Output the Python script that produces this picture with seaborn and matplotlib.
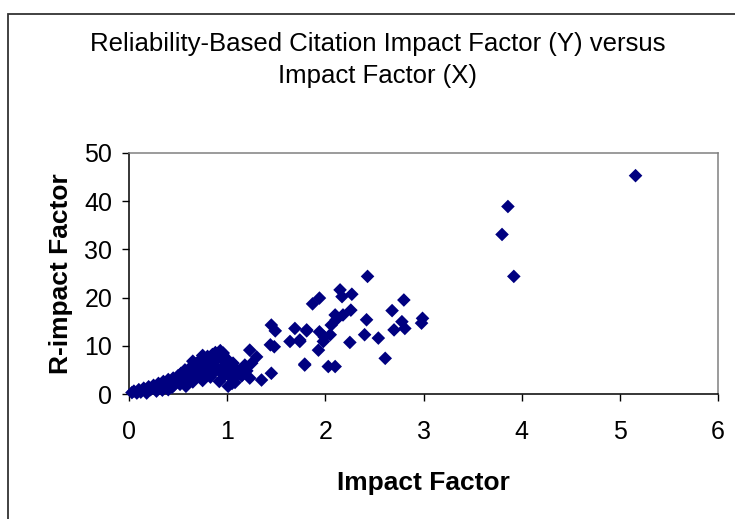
import matplotlib
matplotlib.use("Agg")
import matplotlib.pyplot as plt
import seaborn as sns
import pandas as pd
from matplotlib.patches import Rectangle

impact_factor = [
    0.03, 0.05, 0.08, 0.10, 0.12, 0.15, 0.17, 0.20, 0.22, 0.25, 0.27, 0.30, 0.32, 0.34,
    0.35, 0.38, 0.40, 0.42, 0.44, 0.45, 0.48, 0.50, 0.52, 0.53, 0.55, 0.57, 0.58, 0.60,
    0.62, 0.63, 0.65, 0.67, 0.68, 0.70, 0.72, 0.73, 0.75, 0.77, 0.78, 0.80, 0.82, 0.83,
    0.85, 0.87, 0.88, 0.90, 0.92, 0.93, 0.95, 0.96, 0.97, 0.98, 1.00, 1.01, 1.02, 1.03,
    1.05, 1.06, 1.08, 1.10, 1.12, 1.15, 1.18, 1.20, 0.18, 0.28, 0.40, 0.46, 0.58, 0.65,
    0.70, 0.75, 0.83, 0.88, 0.90, 0.95,
    1.45, 1.49, 1.69, 1.81, 1.64, 1.74, 1.79, 1.48, 1.44, 1.23, 1.30, 1.25, 1.45, 1.35,
    1.23, 0.96, 1.05, 1.15,
    2.43, 2.15, 1.94, 1.87, 2.27, 2.17, 2.80, 2.68, 2.99, 2.98, 2.78, 2.81, 2.70, 2.42,
    2.40, 2.54, 2.25, 2.61, 2.26, 2.18, 2.10, 2.11, 2.06, 1.81, 1.94, 1.99, 2.05, 1.98,
    1.93, 1.74, 1.79, 2.03, 2.10,
    5.16, 3.86, 3.80, 3.92,
]
r_impact_factor = [
    0.3, 0.6, 0.2, 0.9, 0.4, 1.2, 0.7, 1.5, 0.9, 1.8, 1.2, 2.2, 1.5, 0.8,
    2.6, 1.9, 3.0, 2.2, 1.4, 3.3, 2.6, 3.8, 2.0, 4.3, 3.0, 5.0, 1.6, 4.2,
    3.4, 5.6, 2.5, 4.8, 6.2, 3.8, 7.0, 5.5, 2.8, 6.5, 4.4, 7.8, 5.8, 3.5,
    8.2, 6.8, 4.8, 7.4, 2.6, 9.0, 5.5, 8.0, 3.8, 6.5, 7.2, 1.6, 4.5, 5.8,
    3.2, 6.4, 2.4, 5.0, 4.2, 3.8, 6.0, 4.8, 0.2, 0.6, 0.9, 1.9, 3.9, 6.8,
    5.2, 8.0, 7.2, 8.6, 5.2, 4.2,
    14.3, 13.1, 13.6, 13.1, 10.9, 10.9, 6.2, 9.8, 10.2, 9.1, 7.7, 6.4, 4.3, 2.9,
    3.3, 8.5, 2.2, 3.9,
    24.4, 21.6, 19.9, 18.7, 20.7, 20.2, 19.5, 17.3, 15.7, 14.7, 15.0, 13.6, 13.3, 15.4,
    12.3, 11.6, 10.7, 7.4, 17.4, 16.4, 16.4, 15.4, 14.3, 13.3, 12.9, 11.8, 12.3, 10.9,
    9.1, 11.2, 6.0, 5.7, 5.7,
    45.3, 38.9, 33.1, 24.4,
]
x_ticks = [0, 1, 2, 3, 4, 5, 6]
y_ticks = [0, 10, 20, 30, 40, 50]
title_text = "Reliability-Based Citation Impact Factor (Y) versus\nImpact Factor (X)"
x_label = "Impact Factor"
y_label = "R-impact Factor"

df = pd.DataFrame({"x": impact_factor, "y": r_impact_factor})

sns.set_theme(style="white")
plt.rcParams["font.family"] = ["Liberation Sans", "DejaVu Sans"]
plt.rcParams["text.color"] = "black"
plt.rcParams["axes.labelcolor"] = "black"
plt.rcParams["xtick.color"] = "black"
plt.rcParams["ytick.color"] = "black"

W, H = 735, 519
fig = plt.figure(figsize=(W / 100, H / 100), dpi=100)
fig.patch.set_facecolor("white")

# chart-area border (Excel style), extends beyond the image on right/bottom
fig.patches.append(Rectangle((8 / W, -0.1), 1.2, 1 - 14 / H + 0.1,
                             transform=fig.transFigure, fill=False,
                             edgecolor="#333333", linewidth=1.3, zorder=0))

ax = fig.add_axes([129 / W, 1 - 394 / H, (718 - 129) / W, (394 - 153) / H])
sns.scatterplot(data=df, x="x", y="y", ax=ax, marker="D", s=48,
                color="#000080", edgecolor="none", linewidth=0, zorder=3,
                clip_on=False)

ax.set_xlim(0, 6)
ax.set_ylim(0, 50)
ax.set_xticks(x_ticks)
ax.set_yticks(y_ticks)
ax.tick_params(axis="both", which="major", labelsize=18, length=5, width=1,
               color="black", labelcolor="black", direction="out",
               bottom=True, left=True, pad=7)
ax.tick_params(axis="x", pad=14)
for side in ["left", "bottom"]:
    ax.spines[side].set_color("black")
    ax.spines[side].set_linewidth(1.1)
for side in ["top", "right"]:
    ax.spines[side].set_color("#808080")
    ax.spines[side].set_linewidth(1.1)

ax.set_xlabel(x_label, fontsize=19, fontweight="bold", labelpad=19, color="black")
ax.set_ylabel(y_label, fontsize=19, fontweight="bold", labelpad=8, color="black")

fig.text(378 / W, 1 - 60 / H, title_text, ha="center", va="center",
         fontsize=18.5, linespacing=1.4, color="black")

fig.savefig("out.png", dpi=100, facecolor="white")
